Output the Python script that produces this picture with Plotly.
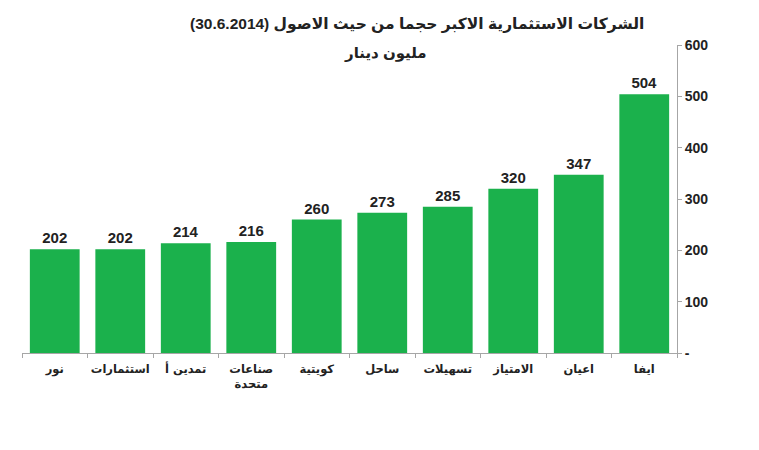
import plotly.graph_objects as go

categories = ["نور", "استثمارات", "تمدين أ", "صناعات<br>متحدة", "كويتية", "ساحل", "تسهيلات", "الامتياز", "اعيان", "ايفا"]
values = [202, 202, 214, 216, 260, 273, 285, 320, 347, 504]
tick_vals = [0, 100, 200, 300, 400, 500, 600]
tick_text = ["-", "100", "200", "300", "400", "500", "600"]
title_line1 = "(30.6.2014) الشركات الاستثمارية الاكبر حجما من حيث الاصول"
title_line2 = "مليون دينار"

fig = go.Figure(go.Bar(
    x=categories, y=values,
    marker=dict(color="#1BB14C", line=dict(width=0)),
    text=[str(v) for v in values], textposition="outside",
    textfont=dict(family="Liberation Sans, Arial, sans-serif", size=15, color="#222222", weight="bold"),
    cliponaxis=False,
))

fig.update_layout(
    width=759, height=450,
    margin=dict(l=22, r=82, t=45, b=97),
    paper_bgcolor="white", plot_bgcolor="white",
    bargap=0.24, showlegend=False,
    font=dict(family="Liberation Sans, DejaVu Sans, sans-serif", color="#222222"),
    xaxis=dict(
        showline=True, linecolor="#A6A6A6", linewidth=1,
        ticks="outside", tickson="boundaries", ticklen=4, tickcolor="#A6A6A6",
        tickfont=dict(size=11.5, family="DejaVu Sans, sans-serif", weight="bold"),
        tickangle=0, showgrid=False, ticklabelstandoff=5,
    ),
    yaxis=dict(
        side="right", range=[0, 600], tickvals=tick_vals, ticktext=tick_text,
        showline=True, linecolor="#A6A6A6", linewidth=1,
        ticks="outside", ticklen=4, tickcolor="#A6A6A6",
        tickfont=dict(size=14, family="Liberation Sans, Arial, sans-serif", weight="bold"),
        showgrid=False, zeroline=False,
    ),
    annotations=[
        dict(text="<b>" + title_line1 + "</b>", x=646, y=24, xref="paper", yref="paper",
             xanchor="right", showarrow=False,
             font=dict(size=15.5, family="Liberation Sans, DejaVu Sans, sans-serif")),
        dict(text="<b>" + title_line2 + "</b>", x=385, y=53, xref="paper", yref="paper",
             xanchor="center", showarrow=False,
             font=dict(size=15, family="Liberation Sans, DejaVu Sans, sans-serif")),
    ],
)

# convert pixel positions of the title to paper coordinates
pw = 759 - 22 - 82
ph = 450 - 45 - 97
for a in fig.layout.annotations:
    px, py = a.x, a.y
    a.x = (px - 22) / pw
    a.y = 1 + (45 - py) / ph
    a.yanchor = "middle"

fig.write_html("out.html")
